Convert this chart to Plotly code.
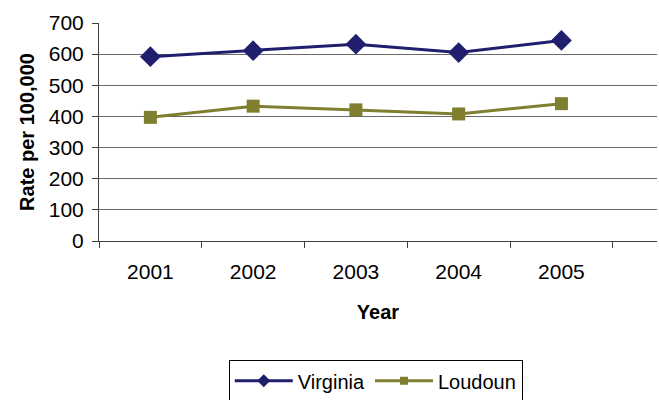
import plotly.graph_objects as go

years = ["2001", "2002", "2003", "2004", "2005"]
virginia = [592, 611, 632, 605, 644]
loudoun = [397, 433, 421, 408, 441]
y_ticks = [0, 100, 200, 300, 400, 500, 600, 700]

NAVY = "#1f1f6e"
OLIVE = "#7f7f2f"

fig = go.Figure()
fig.add_trace(go.Scatter(
    x=years, y=virginia, name="Virginia", mode="lines+markers",
    line=dict(color=NAVY, width=3),
    marker=dict(symbol="diamond", size=16, color=NAVY),
    showlegend=False,
))
fig.add_trace(go.Scatter(
    x=years, y=loudoun, name="Loudoun", mode="lines+markers",
    line=dict(color=OLIVE, width=3),
    marker=dict(symbol="square", size=13, color=OLIVE),
    showlegend=False,
))
# legend entries with smaller symbols (as in the reference)
fig.add_trace(go.Scatter(
    x=[None], y=[None], name="Virginia", mode="lines+markers",
    line=dict(color=NAVY, width=3),
    marker=dict(symbol="diamond", size=10, color=NAVY),
))
fig.add_trace(go.Scatter(
    x=[None], y=[None], name="Loudoun", mode="lines+markers",
    line=dict(color=OLIVE, width=3),
    marker=dict(symbol="square", size=8, color=OLIVE),
))

fig.update_layout(
    width=659, height=400,
    margin=dict(l=99, r=2, t=23, b=159, autoexpand=False),
    paper_bgcolor="white", plot_bgcolor="white",
    font=dict(family="Arial, Liberation Sans, sans-serif", color="black", size=20),
    showlegend=True,
    legend=dict(
        orientation="h", x=0.496, xanchor="center", y=-0.641, yanchor="middle",
        bordercolor="black", borderwidth=1, font=dict(size=20),
        itemwidth=58, tracegroupgap=0,
    ),
    xaxis=dict(
        type="category", range=[-0.5, 4.93],
        showline=True, linecolor="#404040", linewidth=1,
        ticks="outside", tickson="boundaries", ticklen=6, tickcolor="#404040",
        showgrid=False, tickfont=dict(size=21), ticklabelstandoff=12,
        title=dict(text="<b>Year</b>", font=dict(size=20), standoff=22),
    ),
    yaxis=dict(
        range=[0, 700], tickvals=y_ticks,
        showline=True, linecolor="#404040", linewidth=1,
        ticks="outside", ticklen=6, tickcolor="#404040",
        showgrid=True, gridcolor="#6a6a6a", gridwidth=1,
        tickfont=dict(size=21), ticklabelstandoff=4,
        title=dict(text="<b>Rate per 100,000</b>", font=dict(size=20), standoff=8),
        zeroline=False,
    ),
)

fig.write_html(
    "out.html",
    config={"displayModeBar": False},
    post_script="document.body.style.margin='0';document.body.style.overflow='hidden';",
)
